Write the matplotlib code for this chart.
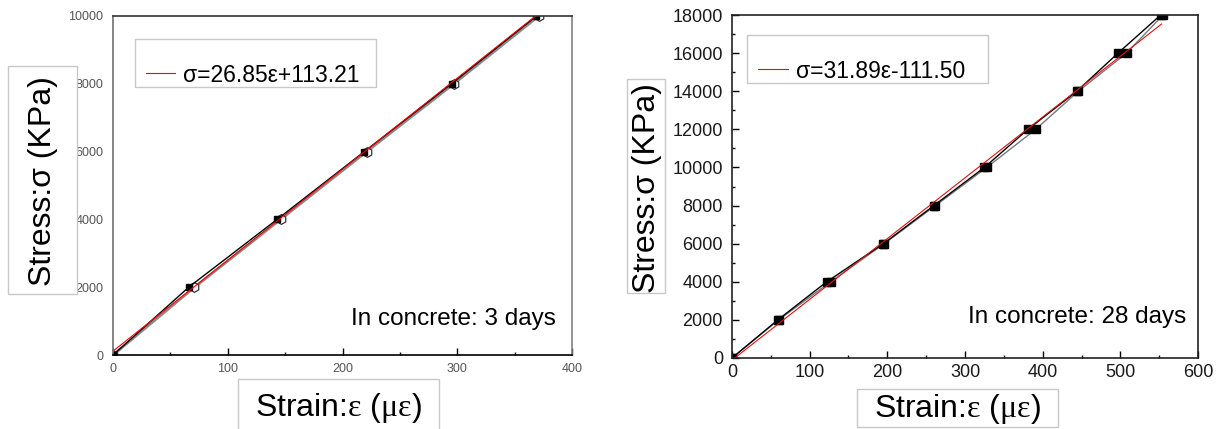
import matplotlib
matplotlib.use("Agg")
import matplotlib.pyplot as plt
import numpy as np
from matplotlib.patches import Rectangle
from matplotlib.ticker import MultipleLocator

plt.rcParams["font.family"] = ["Liberation Sans", "DejaVu Sans"]
plt.rcParams["mathtext.fontset"] = "custom"
plt.rcParams["mathtext.rm"] = "Liberation Serif"

# --- data: 3 days ---
stress_3d = [0, 2000, 4000, 6000, 8000, 10000]
strain_3d_a = [0, 66, 143, 219, 295, 369]
strain_3d_b = [0, 71, 146, 221, 297, 371]
fit_3d = (26.85, 113.21)
fit_3d_range = [0, 370]

# --- data: 28 days ---
stress_28d = [0, 2000, 4000, 6000, 8000, 10000, 12000, 14000, 16000, 18000]
strain_28d_a = [0, 59, 122, 195, 260, 325, 381, 444, 497, 552]
strain_28d_b = [0, 60, 127, 196, 262, 328, 391, 446, 508, 555]
fit_28d = (31.89, -111.50)
fit_28d_range = [3.5, 553]

W, H = 1225, 429
fig = plt.figure(figsize=(W / 100, H / 100), dpi=100)


def fx(px):
    return px / W


def fy(py):
    return 1 - py / H


def box(x0, y0, x1, y1):
    # label boxes sit on top of the axes, white filled like the original
    fig.add_artist(Rectangle((fx(x0), fy(y1)), fx(x1) - fx(x0), fy(y0) - fy(y1),
                             transform=fig.transFigure, facecolor="white",
                             edgecolor="#c8c8c8", linewidth=1.0, zorder=5))


XLABEL = r"Strain:$\mathrm{ε}$ ($\mathrm{με}$)"
YLABEL = "Stress:σ (KPa)"

# ---------------- left panel ----------------
ax1 = fig.add_axes([fx(113), fy(355), fx(572) - fx(113), fy(16) - fy(355)])
ax1.plot(strain_3d_b, stress_3d, color="#8a8a8a", lw=2.0, marker="h", ms=7,
         mfc="white", mec="#333333", mew=0.9)
ax1.plot(strain_3d_a, stress_3d, color="black", lw=1.0, marker="s", ms=5,
         mfc="black", mec="black")
xf = np.array(fit_3d_range)
ax1.plot(xf, fit_3d[0] * xf + fit_3d[1], color="red", lw=0.8,
         label="σ=26.85ε+113.21")
ax1.set_xlim(0, 400)
ax1.set_ylim(0, 10000)
ax1.xaxis.set_major_locator(MultipleLocator(100))
ax1.xaxis.set_minor_locator(MultipleLocator(50))
ax1.yaxis.set_major_locator(MultipleLocator(2000))
ax1.tick_params(axis="x", which="major", direction="in", length=5, width=1,
                labelsize=9, labelcolor="#555555", pad=6)
ax1.tick_params(axis="x", which="minor", direction="in", length=2.4, width=1)
ax1.tick_params(axis="y", which="both", length=0, labelsize=9,
                labelcolor="#555555", pad=7)
for s, c in [("left", "#707070"), ("right", "#808080"), ("top", "#333333"), ("bottom", "black")]:
    ax1.spines[s].set_color(c)
    ax1.spines[s].set_linewidth(1.2)
ax1.text(0.965, 0.106, "In concrete: 3 days", transform=ax1.transAxes,
         ha="right", va="center", fontsize=17.5)
ax1.legend(loc="center left", bbox_to_anchor=(fx(146), fy(75)),
           bbox_transform=fig.transFigure, frameon=False, fontsize=16.5,
           handlelength=1.27, handletextpad=0.35, borderpad=0, borderaxespad=0)
fig.patches.append(Rectangle((fx(135), fy(87)), fx(376) - fx(135), fy(39) - fy(87),
                             transform=fig.transFigure, fill=False,
                             edgecolor="#c8c8c8", linewidth=1.0))

box(8, 66, 77, 294)
fig.text(fx(43.5), fy(181.5), YLABEL, rotation=90, ha="center", va="center",
         fontsize=23, zorder=6)
box(238, 379, 439, 432)
fig.text(fx(338), fy(408), XLABEL, ha="center", va="center", fontsize=23,
         zorder=6)

# ---------------- right panel ----------------
ax2 = fig.add_axes([fx(732), fy(358), fx(1198) - fx(732), fy(15) - fy(358)])
ax2.plot(strain_28d_b, stress_28d, color="#7a7a7a", lw=1.0, marker="s", ms=6,
         mfc="black", mec="black")
ax2.plot(strain_28d_a, stress_28d, color="black", lw=1.0, marker="s", ms=6,
         mfc="black", mec="black")
xf2 = np.array(fit_28d_range)
ax2.plot(xf2, fit_28d[0] * xf2 + fit_28d[1], color="#e01010", lw=0.8,
         label="σ=31.89ε-111.50")
ax2.set_xlim(0, 600)
ax2.set_ylim(0, 18000)
ax2.xaxis.set_major_locator(MultipleLocator(100))
ax2.xaxis.set_minor_locator(MultipleLocator(50))
ax2.yaxis.set_major_locator(MultipleLocator(2000))
ax2.yaxis.set_minor_locator(MultipleLocator(1000))
ax2.tick_params(axis="both", which="major", direction="in", length=5, width=1,
                labelsize=13, labelcolor="#1a1a1a")
ax2.tick_params(axis="x", which="major", pad=4.5)
ax2.tick_params(axis="y", which="major", pad=6.5)
ax2.tick_params(axis="both", which="minor", direction="in", length=2.4, width=1)
for s in ["left", "right", "top", "bottom"]:
    ax2.spines[s].set_color("#222222")
    ax2.spines[s].set_linewidth(1.2)
ax2.text(0.974, 0.1195, "In concrete: 28 days", transform=ax2.transAxes,
         ha="right", va="center", fontsize=17.5)
ax2.legend(loc="center left", bbox_to_anchor=(fx(758), fy(71)),
           bbox_transform=fig.transFigure, frameon=False, fontsize=16.5,
           handlelength=1.3, handletextpad=0.35, borderpad=0, borderaxespad=0)
fig.patches.append(Rectangle((fx(747), fy(83)), fx(988) - fx(747), fy(35) - fy(83),
                             transform=fig.transFigure, fill=False,
                             edgecolor="#c8c8c8", linewidth=1.0))

box(627, 79, 665, 293)
fig.text(fx(647), fy(188), YLABEL, rotation=90, ha="center", va="center",
         fontsize=23, zorder=6)
box(857, 389, 1058, 427)
fig.text(fx(957), fy(409), XLABEL, ha="center", va="center", fontsize=23,
         zorder=6)

fig.savefig("out.png", dpi=100)
